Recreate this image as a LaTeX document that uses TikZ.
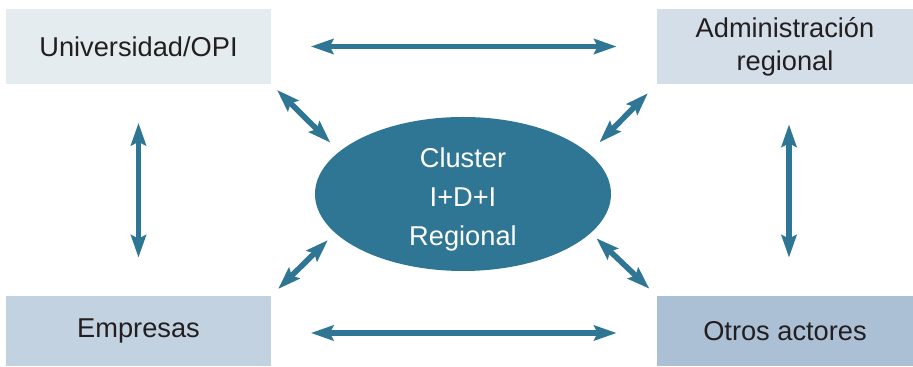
\documentclass[tikz,border=0pt]{standalone}
\usepackage{xcolor}
\usepackage{tikz}
\usepackage{fontspec}
\setmainfont{Liberation Sans}
\usetikzlibrary{shapes,arrows.meta,positioning,calc}

\definecolor{clublue}{HTML}{2F7594}
\definecolor{unifill}{HTML}{E4ECF0}
\definecolor{admfill}{HTML}{D3DEE8}
\definecolor{empfill}{HTML}{C2D2E0}
\definecolor{otrfill}{HTML}{ABBFD5}
\definecolor{txtgray}{HTML}{231F20}

\tikzset{
    actor/.style={rectangle, inner sep=0pt, text=txtgray, align=center,
        font=\fontsize{15.5}{18.6}\selectfont},
    link/.style={line width=3.2pt, draw=clublue,
        {Stealth[length=0.45cm, width=0.3cm, inset=0.07cm]}-{Stealth[length=0.45cm, width=0.3cm, inset=0.07cm]}}
}

\begin{document}
\begin{tikzpicture}
    \useasboundingbox (0,0) rectangle (18.26,7.34);

    % Actors
    \node[actor, fill=unifill, minimum width=5.3cm, minimum height=1.5cm] (uni) at (2.77,6.41) {Universidad/OPI};
    \node[actor, fill=admfill, minimum width=5.12cm, minimum height=1.5cm] (adm) at (15.7,6.41) {Administración\\regional};
    \node[actor, fill=empfill, minimum width=5.3cm, minimum height=1.4cm] (emp) at (2.77,0.72) {Empresas};
    \node[actor, fill=otrfill, minimum width=5.12cm, minimum height=1.4cm] (otros) at (15.7,0.72) {Otros actores};

    % Cluster
    \node[ellipse, fill=clublue, inner sep=0pt, minimum width=5.92cm, minimum height=3.08cm,
        label={[yshift=-0.1cm, text=white, align=center, font=\fontsize{15.5}{22.2}\selectfont]center:Cluster\\I+D+I\\Regional}]
        (clu) at (9.26,3.46) {};

    % Arrows between actors
    \draw[link, shorten <=0.79cm, shorten >=0.8cm] (uni) -- (adm);
    \draw[link, shorten <=0.79cm, shorten >=0.8cm] ([yshift=-0.04cm]emp.east) -- ([yshift=-0.04cm]otros.west);
    \draw[link, shorten <=0.77cm, shorten >=0.76cm] (uni) -- (emp);
    \draw[link, shorten <=0.8cm, shorten >=0.76cm] ([xshift=0.08cm]adm.south) -- ([xshift=0.08cm]otros.north);

    % Arrows to the cluster
    \draw[link, shorten <=0.16cm, shorten >=0.25cm] (uni.south east) -- (clu.161);
    \draw[link, shorten <=0.25cm, shorten >=0.3cm] (adm.south west) -- (clu.18);
    \draw[link, shorten <=0.19cm, shorten >=0.2cm] (emp.north east) -- (clu.197);
    \draw[link, shorten <=0.2cm, shorten >=0.15cm] (otros.north west) -- (clu.-17);

\end{tikzpicture}
\end{document}
